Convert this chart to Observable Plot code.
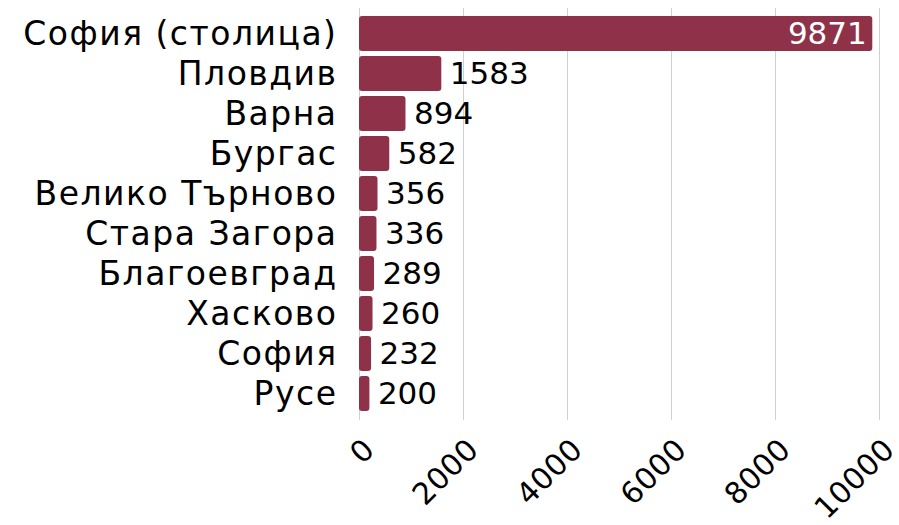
<!DOCTYPE html>
<html><head><meta charset="utf-8">
<script src="https://cdn.jsdelivr.net/npm/d3@7"></script>
<script src="https://cdn.jsdelivr.net/npm/@observablehq/plot@0.6"></script>
<style>
body{margin:0;background:#fff}
g[aria-label="y-axis tick label"] text{letter-spacing:1.5px}
g[aria-label="x-axis tick label"] text{letter-spacing:0.5px}
</style>
</head><body><div id="chart"></div>
<script>
const cities = ["София (столица)","Пловдив","Варна","Бургас","Велико Търново","Стара Загора","Благоевград","Хасково","София","Русе"];
const values = [9871,1583,894,582,356,336,289,260,232,200];
const xTicks = [0,2000,4000,6000,8000,10000];
const data = cities.map((c,i)=>({city:c, value:values[i]}));
const font = "DejaVu Sans";
const chart = Plot.plot({
  width: 899, height: 525,
  marginLeft: 359, marginRight: 20, marginTop: 8, marginBottom: 105,
  style: {fontFamily: font, fontSize: "30px", color: "#000", background: "#fff"},
  x: {domain: [0,10000], label: null},
  y: {domain: cities, padding: 0.115, label: null},
  marks: [
    Plot.ruleX(xTicks, {stroke: "#d0d0d0", strokeWidth: 1}),
    Plot.barX(data, {x: "value", y: "city", fill: "#8f3249", rx: 3}),
    Plot.text(data.filter(d=>d.value>5000), {x: "value", y: "city", text: d=>String(d.value), textAnchor: "end", dx: -6, fill: "#fff", fontSize: 31}),
    Plot.text(data.filter(d=>d.value<=5000), {x: "value", y: "city", text: d=>String(d.value), textAnchor: "start", dx: 8, fill: "#000", fontSize: 31}),
    Plot.axisY({tickSize: 0, tickPadding: 22, fontSize: 33, label: null}),
    Plot.axisX({ticks: xTicks, tickRotate: -45, tickSize: 0, tickPadding: 24, dx: 10, fontSize: 30, label: null, tickFormat: d=>String(d)})
  ]
});
document.getElementById("chart").appendChild(chart);
</script></body></html>
